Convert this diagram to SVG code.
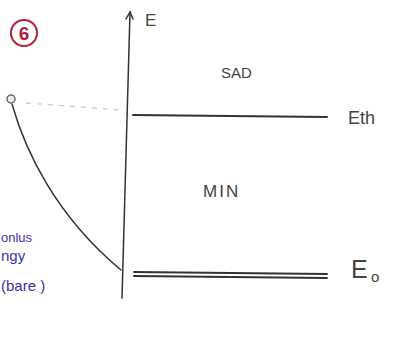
<svg xmlns="http://www.w3.org/2000/svg" width="399" height="344" viewBox="0 0 399 344">
<style>
.ink{stroke:#333;fill:none;stroke-linecap:round}
.lbl{font-family:"Liberation Sans",Arial,sans-serif;fill:#444}
.blue{font-family:"Liberation Sans",Arial,sans-serif;fill:#3a32b0}
</style>
<rect width="399" height="344" fill="#fff"/>
<g id="num6">
<circle cx="24" cy="33" r="13" fill="none" stroke="#b0213a" stroke-width="2"/>
<text x="24" y="40" text-anchor="middle" font-family="Liberation Sans,Arial,sans-serif" font-size="19" font-weight="bold" fill="#b0213a">6</text>
</g>
<g id="connectors">
<path class="ink" d="M130 12 L122 298" stroke="#888" stroke-width="1.5"/>
<path class="ink" d="M126 19 L130 12 L133 19" stroke="#666" stroke-width="1.5"/>
<path class="ink" d="M12 104 C25 150 55 215 121 270" stroke="#777" stroke-width="1.5"/>
<path d="M26 103 L120 110" stroke="#ccc" stroke-width="1.3" stroke-dasharray="5 6" fill="none"/>
</g>
<g id="start">
<circle cx="11" cy="99" r="4" fill="#eee" stroke="#666" stroke-width="1.5"/>
</g>
<g id="axis-label"><text class="lbl" x="145" y="26" font-size="17" fill="#777">E</text></g>
<g id="eth">
<path class="ink" d="M133 115 L327 117" stroke-width="2"/>
<text class="lbl" x="348" y="124" font-size="18">Eth</text>
</g>
<g id="sad"><text class="lbl" x="221" y="78" font-size="15" fill="#555">SAD</text></g>
<g id="min"><text class="lbl" x="203" y="197" font-size="17" fill="#666" letter-spacing="2">MIN</text></g>
<g id="e0">
<path class="ink" d="M134 272 L327 274" stroke-width="2"/>
<path class="ink" d="M134 276 L327 278" stroke-width="2"/>
<text class="lbl" x="351" y="278" font-size="25" fill="#555">E</text>
<text class="lbl" x="371" y="282" font-size="15" fill="#555">o</text>
</g>
<g id="note">
<text class="blue" x="1" y="242" font-size="13">onlus</text>
<text class="blue" x="1" y="261" font-size="15">ngy</text>
<text class="blue" x="1" y="291" font-size="15">(bare )</text>
</g>
</svg>
